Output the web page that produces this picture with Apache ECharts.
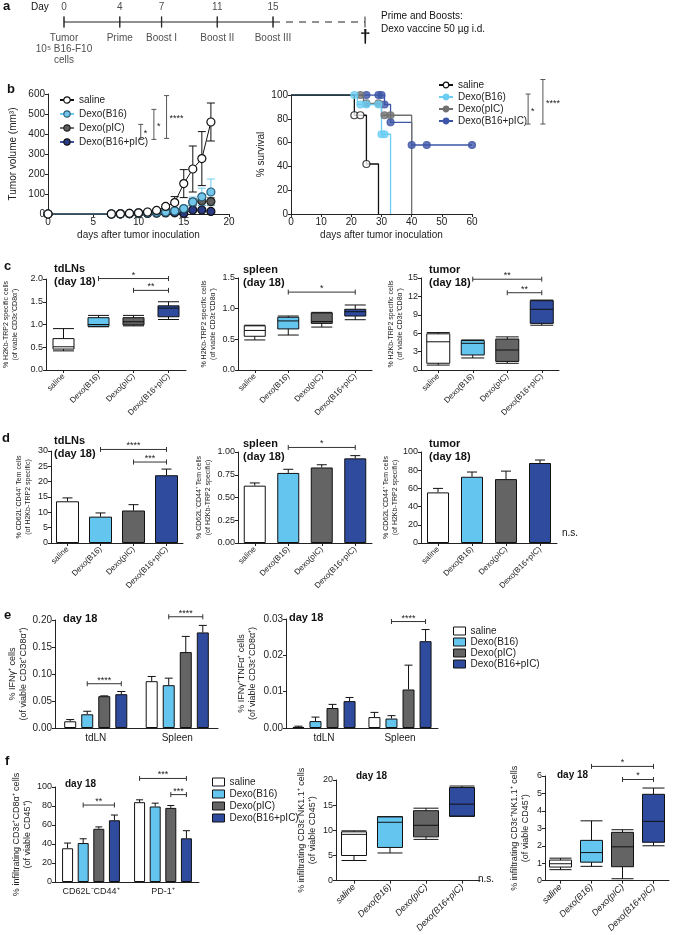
<!DOCTYPE html>
<html>
<head>
<meta charset="utf-8">
<script src="https://cdn.jsdelivr.net/npm/echarts/dist/echarts.min.js"></script>
<style>
  html, body { margin: 0; padding: 0; background: #fff; }
  #main { width: 685px; height: 935px; }
</style>
</head>
<body>
<div id="main"></div>
<script>
var FONT = '"Liberation Sans", Arial, sans-serif';

// groups and colours
var groups = ['saline', 'Dexo(B16)', 'Dexo(pIC)', 'Dexo(B16+pIC)'];
var barFill = ['#ffffff', '#64c5ee', '#646464', '#2f4b9e'];
var lineColor = ['#111111', '#6ccdf3', '#707070', '#3d55a8'];
var dotFill = ['#ffffff', '#72c6ea', '#5e5e5e', '#2c3b85'];
var dotEdge = ['#111111', '#2d5f7a', '#222222', '#111111'];

// a: schedule
var timelineDays = [0, 4, 7, 11, 15];
var timelineEvents = ['Tumor\n10⁵ B16-F10\ncells', 'Prime', 'Boost I', 'Boost II', 'Boost III'];
var timelineEnd = 21.6;

// b: tumour growth (mean, sem)
var growthDays = [0, 7, 8, 9, 10, 11, 12, 13, 14, 15, 16, 17, 18];
var growthSaline = [0, 0, 1, 3, 6, 10, 18, 38, 57, 152, 225, 277, 460];
var growthSalineErr = [0, 0, 1, 2, 3, 5, 7, 10, 30, 70, 115, 135, 95];
var growthB16 = [0, 0, 1, 2, 4, 6, 8, 10, 15, 27, 60, 86, 110];
var growthB16Err = [0, 0, 0, 1, 2, 3, 4, 5, 7, 12, 25, 43, 65];
var growthPIC = [0, 0, 1, 3, 5, 8, 12, 14, 16, 25, 60, 65, 62];
var growthPICErr = [0, 0, 0, 1, 2, 3, 4, 5, 6, 10, 18, 22, 20];
var growthB16PIC = [0, 0, 0, 1, 2, 3, 4, 5, 6, 3, 20, 20, 13];
var growthB16PICErr = [0, 0, 0, 1, 1, 1, 2, 2, 3, 3, 6, 6, 5];
var sigGrowth = [[10.25, 373, 448, '*'], [11.7, 373, 523, '*'], [13.1, 378, 592, '****']];

// b: survival (steps and marks)
var survSaline = [[0, 100], [21, 83], [25, 42], [29, 0]];
var survSalineMarks = [[21, 83], [23, 83], [25, 42]];
var survB16 = [[0, 100], [22, 92], [30, 67], [33, 0]];
var survB16Marks = [[21, 100], [23, 92], [25, 92], [29, 92], [30, 67], [31, 67]];
var survPIC = [[0, 100], [24, 93], [30, 83], [40, 0]];
var survPICMarks = [[23, 100], [25, 93], [29, 93], [31, 83], [33, 83]];
var survB16PIC = [[0, 100], [31, 92], [33, 77], [40, 58], [60, 58]];
var survB16PICMarks = [[25, 100], [29, 100], [30, 100], [31, 92], [33, 77], [40, 58], [45, 58], [60, 58]];
var sigSurv = [[78.6, 75.6, 100.8, '*'], [83.5, 75.6, 113, '****']];

// c: tetramer+ boxes [min, q1, median, q3, max]
var boxTdln = [[0.42, 0.46, 0.51, 0.69, 0.91], [0.95, 0.96, 1.0, 1.15, 1.2], [0.97, 0.99, 1.06, 1.15, 1.2], [1.11, 1.17, 1.36, 1.41, 1.5]];
var boxSpleen = [[0.49, 0.55, 0.645, 0.72, 0.73], [0.57, 0.67, 0.80, 0.86, 0.88], [0.70, 0.76, 0.79, 0.93, 0.94], [0.82, 0.88, 0.95, 0.99, 1.06]];
var boxTumor = [[0.8, 1.1, 4.6, 5.9, 6.1], [1.96, 2.45, 4.35, 4.8, 4.9], [1.09, 1.4, 3.26, 5.05, 5.4], [7.3, 7.6, 9.9, 11.3, 11.4]];
var sigC1 = [[1, null, 3, null, 2.01, '*'], [2, null, 3, null, 1.75, '**']];
var sigC2 = [[1, null, 3, null, 1.27, '*']];
var sigC3 = [[1, null, 3, null, 14.8, '**'], [2, null, 3, null, 12.6, '**']];

// d: Tem bars
var temTdln = [13.6, 8.6, 10.6, 22.1];
var temTdlnErr = [1.1, 1.2, 1.9, 2.0];
var temSpleen = [0.63, 0.77, 0.83, 0.93];
var temSpleenErr = [0.03, 0.04, 0.03, 0.03];
var temTumor = [55.6, 72.8, 70.2, 87.9];
var temTumorErr = [4.4, 5.2, 8.8, 3.3];
var sigD1 = [[1, null, 3, null, 30.5, '****'], [2, null, 3, null, 26.4, '***']];
var sigD2 = [[1, null, 3, null, 1.05, '*']];

// e: cytokine bars, per organ
var organs = ['tdLN', 'Spleen'];
var ifnTdln = [0.0124, 0.0254, 0.0589, 0.0626];
var ifnTdlnErr = [0.0032, 0.0056, 0.0006, 0.005];
var ifnSpleen = [0.0867, 0.0793, 0.1406, 0.177];
var ifnSpleenErr = [0.0087, 0.013, 0.029, 0.013];
var dpTdln = [0.0003, 0.0019, 0.0055, 0.0074];
var dpTdlnErr = [0.0002, 0.0011, 0.001, 0.001];
var dpSpleen = [0.003, 0.0026, 0.0106, 0.0239];
var dpSpleenErr = [0.0013, 0.0008, 0.0067, 0.0032];
var sigE1 = [[0, 1, 0, 3, 0.082, '****'], [1, 1, 1, 3, 0.206, '****']];
var sigE2 = [[1, 1, 1, 3, 0.0293, '****']];

// f: infiltrates
var markers = ['CD62L⁻CD44⁺', 'PD-1⁺'];
var infCd62 = [35.5, 41, 56, 65];
var infCd62Err = [5.5, 4.5, 2, 5.5];
var infPd1 = [84, 79.5, 78, 46];
var infPd1Err = [2.5, 3.5, 2.5, 8];
var sigF1 = [[0, 1, 0, 3, 81, '**'], [1, 0, 1, 3, 109, '***'], [1, 2, 1, 3, 92, '***']];
var boxNk = [[4.0, 5.0, 9.2, 9.7, 9.9], [5.5, 6.6, 11.6, 12.7, 12.7], [8.2, 8.7, 11.0, 13.9, 14.4], [12.8, 12.8, 15.2, 18.5, 18.8]];
var boxNkt = [[0.63, 0.78, 0.97, 1.18, 1.29], [0.82, 1.06, 1.61, 2.31, 3.43], [0.11, 0.8, 1.94, 2.77, 2.92], [2.0, 2.2, 3.4, 4.95, 5.31]];
var sigF3 = [[1, null, 3, null, 6.55, '*'], [2, null, 3, null, 5.8, '*']];

var chart = echarts.init(document.getElementById('main'));
var grids = [], xAxes = [], yAxes = [], series = [], graphics = [];

function addGrid(box, x, y) {
    var i = grids.length;
    grids.push(box);
    x.gridIndex = i;
    y.gridIndex = i;
    xAxes.push(x);
    yAxes.push(y);
    return i;
}

function valAxis(min, max, interval, dec, fs, name, gap, nfs) {
    return {
        type: 'value', min: min, max: max, interval: interval,
        axisLine: { show: true, lineStyle: { color: '#222', width: 1 } },
        axisTick: { show: true, length: 3, lineStyle: { color: '#222' } },
        splitLine: { show: false },
        axisLabel: { fontSize: fs, color: '#222', fontFamily: FONT, margin: 3,
            formatter: function(v) { return v.toFixed(dec); } },
        name: name, nameLocation: 'middle', nameRotate: 90, nameGap: gap,
        nameTextStyle: { fontSize: nfs, color: '#222', fontFamily: FONT, lineHeight: Math.round(nfs * 1.25) }
    };
}

function catAxis(cats, fs, rotate, ticks, italic) {
    return {
        type: 'category', data: cats,
        axisLine: { lineStyle: { color: '#222' } },
        axisTick: { show: ticks, alignWithLabel: true, length: 3, lineStyle: { color: '#222' } },
        axisLabel: { interval: 0, rotate: rotate, fontSize: fs, color: '#222', fontFamily: FONT, margin: 5,
            fontStyle: italic ? 'italic' : 'normal' }
    };
}

function text(x, y, s, fs, bold, extra) {
    var st = { text: s, fontSize: fs, fontWeight: bold ? 'bold' : 'normal', fill: '#111', fontFamily: FONT };
    if (extra) for (var k in extra) st[k] = extra[k];
    graphics.push({ type: 'text', left: x, top: y, style: st });
}

// horizontal significance brackets between categories (optional bar offsets)
function sigSeries(gi, items, step) {
    series.push({
        type: 'custom', xAxisIndex: gi, yAxisIndex: gi, clip: false, silent: true, z: 6,
        data: items.map(function(b) { return [b[0], b[4]]; }),
        renderItem: function(params, api) {
            var b = items[params.dataIndex];
            var p1 = api.coord([b[0], b[4]]), p2 = api.coord([b[2], b[4]]);
            if (b[1] !== null) p1[0] += (b[1] - 1.5) * step;
            if (b[3] !== null) p2[0] += (b[3] - 1.5) * step;
            var st = { stroke: '#333', lineWidth: 1 };
            return { type: 'group', children: [
                { type: 'line', shape: { x1: p1[0], y1: p1[1], x2: p2[0], y2: p2[1] }, style: st },
                { type: 'line', shape: { x1: p1[0], y1: p1[1] - 2.5, x2: p1[0], y2: p1[1] + 2.5 }, style: st },
                { type: 'line', shape: { x1: p2[0], y1: p2[1] - 2.5, x2: p2[0], y2: p2[1] + 2.5 }, style: st },
                { type: 'text', style: { text: b[5], x: (p1[0] + p2[0]) / 2, y: p1[1] + 1, align: 'center',
                    verticalAlign: 'bottom', fontSize: 9, fill: '#222', fontFamily: FONT } }
            ] };
        }
    });
}

// vertical brackets (panel b)
function vSigSeries(gi, items) {
    series.push({
        type: 'custom', xAxisIndex: gi, yAxisIndex: gi, clip: false, silent: true, z: 6,
        data: items.map(function(b) { return [b[0], b[1]]; }),
        renderItem: function(params, api) {
            var b = items[params.dataIndex];
            var p1 = api.coord([b[0], b[1]]), p2 = api.coord([b[0], b[2]]);
            var st = { stroke: '#555', lineWidth: 1 };
            return { type: 'group', children: [
                { type: 'line', shape: { x1: p1[0], y1: p1[1], x2: p2[0], y2: p2[1] }, style: st },
                { type: 'line', shape: { x1: p1[0] - 2.5, y1: p1[1], x2: p1[0] + 2.5, y2: p1[1] }, style: st },
                { type: 'line', shape: { x1: p2[0] - 2.5, y1: p2[1], x2: p2[0] + 2.5, y2: p2[1] }, style: st },
                { type: 'text', style: { text: b[3], x: p1[0] + 3, y: (p1[1] + p2[1]) / 2 + 2, align: 'left',
                    verticalAlign: 'middle', fontSize: 9, fill: '#222', fontFamily: FONT } }
            ] };
        }
    });
}

// error bars: data [x, mean, err], offset by bar index
function errSeries(gi, xs, means, errs, barIdx, step, cap, both, color) {
    series.push({
        type: 'custom', xAxisIndex: gi, yAxisIndex: gi, clip: false, silent: true, z: 4,
        data: xs.map(function(x, i) { return [x, means[i], errs[i]]; }),
        renderItem: function(params, api) {
            var x = api.value(0), m = api.value(1), e = api.value(2);
            var off = barIdx === null ? 0 : (barIdx - 1.5) * step;
            var top = api.coord([x, m + e]), mid = api.coord([x, m]);
            var bot = both ? api.coord([x, Math.max(0, m - e)]) : mid;
            var px = top[0] + off;
            var st = { stroke: color || '#111', lineWidth: 1 };
            var kids = [
                { type: 'line', shape: { x1: px, y1: top[1], x2: px, y2: bot[1] }, style: st },
                { type: 'line', shape: { x1: px - cap / 2, y1: top[1], x2: px + cap / 2, y2: top[1] }, style: st }
            ];
            if (both) kids.push({ type: 'line', shape: { x1: px - cap / 2, y1: bot[1], x2: px + cap / 2, y2: bot[1] }, style: st });
            return { type: 'group', children: kids };
        }
    });
}

function boxSeries(gi, data, w) {
    series.push({
        type: 'boxplot', name: 'box' + gi, xAxisIndex: gi, yAxisIndex: gi, boxWidth: [w, w],
        data: data.map(function(d, i) {
            return { value: d, itemStyle: { color: barFill[i], borderColor: '#111', borderWidth: 1 } };
        })
    });
}

function barSeries(gi, vals, w) {
    series.push({
        type: 'bar', name: 'bar' + gi, xAxisIndex: gi, yAxisIndex: gi, barWidth: w,
        data: vals.map(function(v, i) {
            return { value: v, itemStyle: { color: barFill[i], borderColor: '#111', borderWidth: 1 } };
        })
    });
}

// ---- a: schedule ----
var ga = addGrid({ left: 64, top: 12, width: 301, height: 20 },
    { type: 'value', min: 0, max: timelineEnd, show: false },
    { type: 'value', min: -1, max: 1, show: false });
series.push({ type: 'line', xAxisIndex: ga, yAxisIndex: ga, symbol: 'none', silent: true,
    data: [[timelineDays[0], 0], [timelineDays[timelineDays.length - 1], 0]], lineStyle: { color: '#222', width: 1.2 } });
series.push({ type: 'line', xAxisIndex: ga, yAxisIndex: ga, symbol: 'none', silent: true,
    data: [[timelineDays[timelineDays.length - 1], 0], [timelineEnd, 0]], lineStyle: { color: '#222', width: 1.2, type: [7, 6] } });
series.push({ type: 'scatter', xAxisIndex: ga, yAxisIndex: ga, symbol: 'rect', symbolSize: [1.2, 11], silent: true,
    data: timelineDays.concat([timelineEnd]).map(function(d) { return [d, 0]; }),
    itemStyle: { color: '#222' },
    label: { show: true, position: 'top', distance: 4, fontSize: 10, color: '#222', fontFamily: FONT,
        formatter: function(p) { return p.value[0] === timelineEnd ? '' : String(p.value[0]); } } });
series.push({ type: 'scatter', xAxisIndex: ga, yAxisIndex: ga, symbol: 'rect', symbolSize: [1.2, 11], silent: true,
    data: timelineDays.map(function(d) { return [d, 0]; }),
    itemStyle: { color: '#222' },
    label: { show: true, position: 'bottom', distance: 5, fontSize: 10, lineHeight: 11, color: '#222', fontFamily: FONT,
        formatter: function(p) { return timelineEvents[p.dataIndex]; } } });
text(3, 0, 'a', 13, true);
text(31, 2, 'Day', 10, false);
text(360, 27, '†', 19, true);
text(381, 10, 'Prime and Boosts:\nDexo vaccine 50 µg i.d.', 10, false, { lineHeight: 13 });

// ---- b: growth ----
var gb1 = addGrid({ left: 48, top: 94, width: 181, height: 120 },
    { type: 'value', min: 0, max: 20, interval: 5,
      axisLine: { lineStyle: { color: '#222' } }, axisTick: { length: 3, lineStyle: { color: '#222' } }, splitLine: { show: false },
      axisLabel: { fontSize: 10, color: '#222', fontFamily: FONT, margin: 3 },
      name: 'days after tumor inoculation', nameLocation: 'middle', nameGap: 16,
      nameTextStyle: { fontSize: 10, color: '#222', fontFamily: FONT } },
    valAxis(0, 600, 100, 0, 10, 'Tumor volume (mm³)', 28, 10));
var growthAll = [growthSaline, growthB16, growthPIC, growthB16PIC];
var growthErrAll = [growthSalineErr, growthB16Err, growthPICErr, growthB16PICErr];
for (var g = 3; g >= 0; g--) {
    errSeries(gb1, growthDays, growthAll[g], growthErrAll[g], null, 0, 8, true, g === 0 ? '#111' : lineColor[g]);
}
for (var g2 = 3; g2 >= 0; g2--) {
    series.push({
        type: 'line', name: groups[g2], xAxisIndex: gb1, yAxisIndex: gb1, symbol: 'circle', symbolSize: 8, z: 5,
        data: growthDays.map(function(d, i) { return [d, growthAll[g2][i]]; }),
        lineStyle: { color: lineColor[g2], width: 1 },
        itemStyle: { color: dotFill[g2], borderColor: dotEdge[g2], borderWidth: 1.2 }
    });
}
vSigSeries(gb1, sigGrowth);
text(7, 83, 'b', 13, true);

// ---- b: survival ----
var gb2 = addGrid({ left: 291, top: 95, width: 181, height: 119 },
    { type: 'value', min: 0, max: 60, interval: 10,
      axisLine: { lineStyle: { color: '#222' } }, axisTick: { length: 3, lineStyle: { color: '#222' } }, splitLine: { show: false },
      axisLabel: { fontSize: 10, color: '#222', fontFamily: FONT, margin: 3 },
      name: 'days after tumor inoculation', nameLocation: 'middle', nameGap: 16,
      nameTextStyle: { fontSize: 10, color: '#222', fontFamily: FONT } },
    valAxis(0, 100, 20, 0, 10, '% survival', 22, 10));
var survAll = [survSaline, survB16, survPIC, survB16PIC];
var survMarksAll = [survSalineMarks, survB16Marks, survPICMarks, survB16PICMarks];
for (var s = 3; s >= 0; s--) {
    series.push({ type: 'line', name: groups[s], xAxisIndex: gb2, yAxisIndex: gb2, step: 'end', showSymbol: false,
        symbol: 'circle', data: survAll[s], lineStyle: { color: lineColor[s], width: 1.3 },
        itemStyle: { color: s === 0 ? '#fff' : lineColor[s], borderColor: lineColor[s] } });
    series.push({ type: 'scatter', xAxisIndex: gb2, yAxisIndex: gb2, symbol: 'circle', symbolSize: 7, z: 5,
        data: survMarksAll[s],
        itemStyle: { color: s === 0 ? '#fff' : lineColor[s], borderColor: lineColor[s], borderWidth: 1.2 } });
}
vSigSeries(gb2, sigSurv);

// ---- c: boxes ----
var cNames = '% H2Kb-TRP2 specific cells\n(of viable CD3ε⁺CD8α⁺)';
var gc1 = addGrid({ left: 46, top: 279, width: 140, height: 91 }, catAxis(groups, 8, 45, true),
    valAxis(0, 2.0, 0.5, 1, 9, cNames, 26, 7));
boxSeries(gc1, boxTdln, 21);
sigSeries(gc1, sigC1, 0);
var gc2 = addGrid({ left: 238, top: 278, width: 134, height: 92 }, catAxis(groups, 8, 45, true),
    valAxis(0, 1.5, 0.5, 1, 9, cNames, 20, 7));
boxSeries(gc2, boxSpleen, 21);
sigSeries(gc2, sigC2, 0);
var gc3 = addGrid({ left: 421, top: 278, width: 138, height: 92 }, catAxis(groups, 8, 45, true),
    valAxis(0, 15, 3, 0, 9, cNames, 12, 7));
boxSeries(gc3, boxTumor, 23);
sigSeries(gc3, sigC3, 0);
text(4, 260, 'c', 13, true);
text(54, 262, 'tdLNs\n(day 18)', 11, true, { lineHeight: 13 });
text(243, 263, 'spleen\n(day 18)', 11, true, { lineHeight: 13 });
text(429, 263, 'tumor\n(day 18)', 11, true, { lineHeight: 13 });

// ---- d: bars ----
var dNames = '% CD62L⁻CD44⁺ Tem cells\n(of H2Kb-TRP2 specific)';
var gd1 = addGrid({ left: 51, top: 451, width: 132, height: 92 }, catAxis(groups, 8, 45, true),
    valAxis(0, 30, 5, 0, 9, dNames, 18, 7));
barSeries(gd1, temTdln, 23);
errSeries(gd1, [0, 1, 2, 3], temTdln, temTdlnErr, null, 0, 10, false);
sigSeries(gd1, sigD1, 0);
var gd2 = addGrid({ left: 238, top: 452, width: 134, height: 91 }, catAxis(groups, 8, 45, true),
    valAxis(0, 1.0, 0.25, 2, 9, dNames, 25, 7));
barSeries(gd2, temSpleen, 22);
errSeries(gd2, [0, 1, 2, 3], temSpleen, temSpleenErr, null, 0, 10, false);
sigSeries(gd2, sigD2, 0);
var gd3 = addGrid({ left: 421, top: 452, width: 136, height: 91 }, catAxis(groups, 8, 45, true),
    valAxis(0, 100, 20, 0, 9, dNames, 20, 7));
barSeries(gd3, temTumor, 22);
errSeries(gd3, [0, 1, 2, 3], temTumor, temTumorErr, null, 0, 10, false);
text(2, 432, 'd', 13, true);
text(54, 434, 'tdLNs\n(day 18)', 11, true, { lineHeight: 13 });
text(243, 437, 'spleen\n(day 18)', 11, true, { lineHeight: 13 });
text(429, 437, 'tumor\n(day 18)', 11, true, { lineHeight: 13 });
text(562, 528, 'n.s.', 10, false);

// ---- e: cytokines ----
function groupedBars(gi, perCat, perCatErr, w, step, cap) {
    for (var k = 0; k < 4; k++) {
        series.push({ type: 'bar', name: groups[k], xAxisIndex: gi, yAxisIndex: gi, barWidth: w, barGap: '42%',
            data: perCat.map(function(arr) { return arr[k]; }),
            itemStyle: { color: barFill[k], borderColor: '#111', borderWidth: 1 } });
    }
    for (var j = 0; j < 4; j++) {
        errSeries(gi, perCat.map(function(a, c) { return c; }), perCat.map(function(arr) { return arr[j]; }),
            perCatErr.map(function(arr) { return arr[j]; }), j, step, cap, false);
    }
}
var ge1 = addGrid({ left: 55, top: 620, width: 163, height: 108 }, catAxis(organs, 10, 0, false),
    valAxis(0, 0.20, 0.05, 2, 10, '% IFNγ⁺ cells\n(of viable CD3ε⁺CD8α⁺)', 24, 9));
groupedBars(ge1, [ifnTdln, ifnSpleen], [ifnTdlnErr, ifnSpleenErr], 12, 17.04, 8);
sigSeries(ge1, sigE1, 17.04);
var ge2 = addGrid({ left: 286, top: 619, width: 152, height: 109 }, catAxis(organs, 10, 0, false),
    valAxis(0, 0.03, 0.01, 2, 10, '% IFNγ⁺TNFα⁺ cells\n(of viable CD3ε⁺CD8α⁺)', 28, 9));
groupedBars(ge2, [dpTdln, dpSpleen], [dpTdlnErr, dpSpleenErr], 12, 17.04, 8);
sigSeries(ge2, sigE2, 17.04);
text(4, 609, 'e', 13, true);
text(63, 613, 'day 18', 11, true);
text(289, 612, 'day 18', 11, true);

// ---- f: infiltrates ----
var gf1 = addGrid({ left: 55, top: 787, width: 144, height: 95 }, catAxis(markers, 9, 0, false),
    valAxis(0, 100, 20, 0, 9, '% infiltrating CD3ε⁺CD8α⁺ cells\n(of viable CD45⁺)', 18, 9));
groupedBars(gf1, [infCd62, infPd1], [infCd62Err, infPd1Err], 11, 15.62, 7);
sigSeries(gf1, sigF1, 15.62);
var gf2 = addGrid({ left: 336, top: 780, width: 144, height: 102 }, catAxis(groups, 9, 45, true, true),
    valAxis(0, 20, 5, 0, 9, '% infiltrating CD3ε⁻NK1.1⁺ cells\n(of viable CD45⁺)', 18, 9));
boxSeries(gf2, boxNk, 25);
var gf3 = addGrid({ left: 545, top: 776, width: 124, height: 105 }, catAxis(groups, 9, 45, true, true),
    valAxis(0, 6, 1, 0, 9, '% infiltrating CD3ε⁺NK1.1⁺ cells\n(of viable CD45⁺)', 14, 9));
boxSeries(gf3, boxNkt, 22);
sigSeries(gf3, sigF3, 0);
text(5, 755, 'f', 13, true);
text(65, 779, 'day 18', 10, true);
text(356, 771, 'day 18', 10, true);
text(557, 770, 'day 18', 10, true);
text(478, 874, 'n.s.', 10, false);

var lineLegend = groups.map(function(n, i) {
    return { name: n, itemStyle: { color: dotFill[i], borderColor: dotEdge[i], borderWidth: 1.2 }, lineStyle: { color: lineColor[i] } };
});
var survLegend = groups.map(function(n, i) {
    return { name: n, itemStyle: { color: i === 0 ? '#fff' : lineColor[i], borderColor: lineColor[i], borderWidth: 1.2 }, lineStyle: { color: lineColor[i] } };
});
var boxLegend = groups.map(function(n, i) {
    return { name: n, icon: 'rect', itemStyle: { color: barFill[i], borderColor: '#111', borderWidth: 1 } };
});
var legendText = { fontSize: 10, color: '#222', fontFamily: FONT };

chart.setOption({
    animation: false,
    backgroundColor: '#fff',
    textStyle: { fontFamily: FONT },
    grid: grids,
    xAxis: xAxes,
    yAxis: yAxes,
    legend: [
        { left: 54, top: 90, orient: 'vertical', itemWidth: 14, itemHeight: 8, itemGap: 4, data: lineLegend, textStyle: legendText, selectedMode: false },
        { left: 433, top: 75, orient: 'vertical', itemWidth: 14, itemHeight: 7, itemGap: 2, data: survLegend, textStyle: legendText, selectedMode: false },
        { left: 448, top: 621, orient: 'vertical', itemWidth: 12, itemHeight: 8, itemGap: 1, data: boxLegend, textStyle: legendText, selectedMode: false },
        { left: 207, top: 772, orient: 'vertical', itemWidth: 12, itemHeight: 8, itemGap: 2, data: boxLegend, textStyle: legendText, selectedMode: false }
    ],
    graphic: graphics,
    series: series
});
</script>
</body>
</html>
